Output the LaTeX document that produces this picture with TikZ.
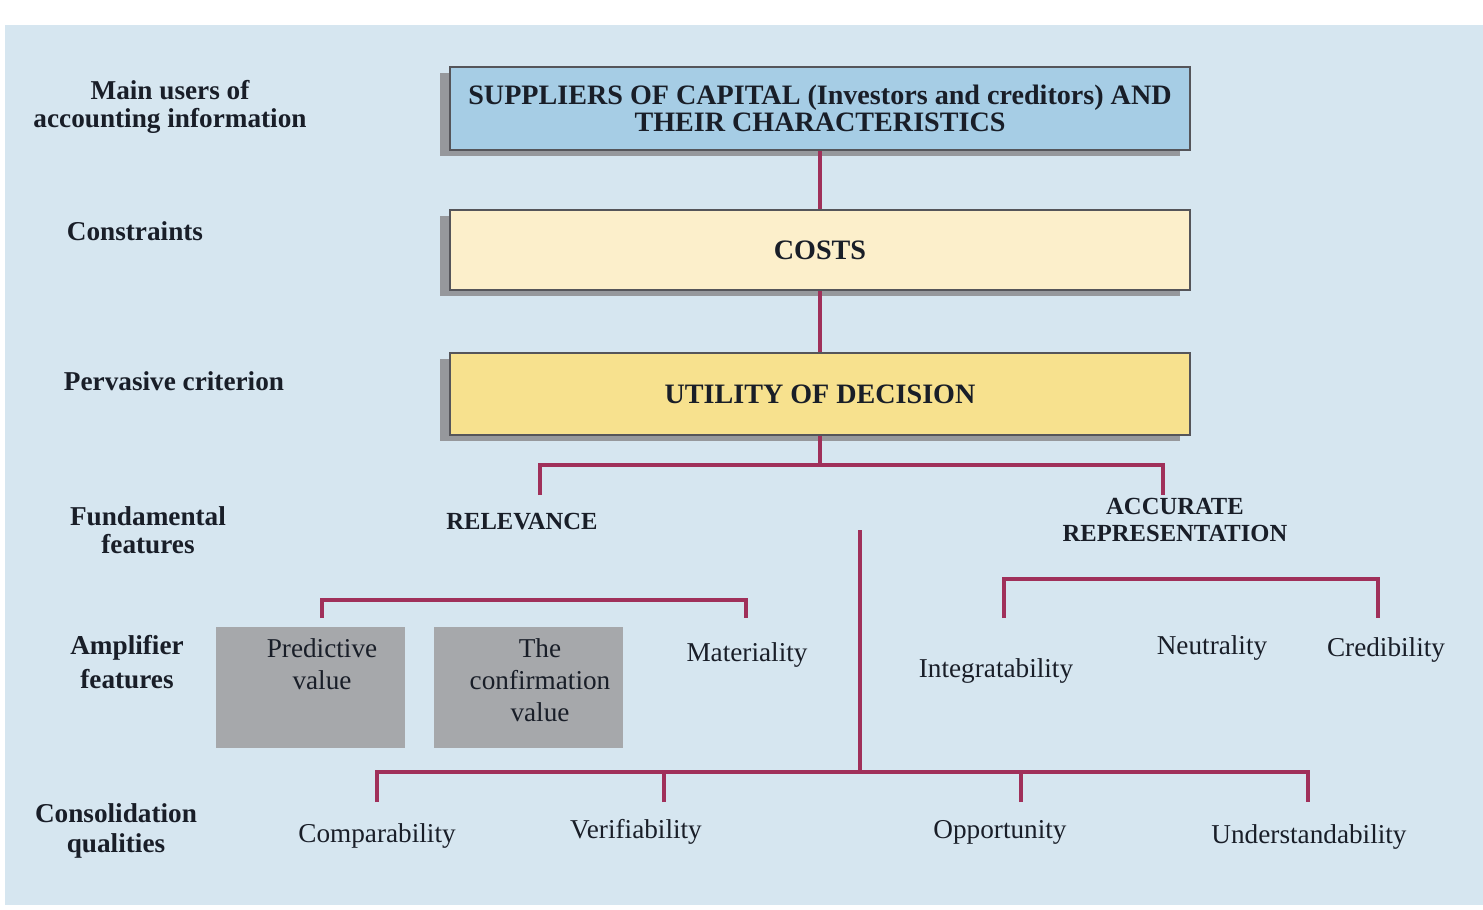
\documentclass[tikz,border=0pt]{standalone}
\usepackage{fontspec}
\setmainfont{Liberation Serif}
\usetikzlibrary{shadows}

\definecolor{bgblue}{RGB}{214,230,240}
\definecolor{supblue}{RGB}{166,205,229}
\definecolor{costcream}{RGB}{252,239,203}
\definecolor{utilyellow}{RGB}{247,225,142}
\definecolor{boxgray}{RGB}{166,168,171}
\definecolor{boxedge}{RGB}{85,85,90}
\definecolor{shadowgray}{RGB}{150,152,156}
\definecolor{linkred}{RGB}{160,48,90}
\definecolor{textdark}{RGB}{25,30,40}

\begin{document}
\begin{tikzpicture}[x=0.02cm,y=-0.02cm,
  link/.style={line width=2.2pt,color=linkred},
  topbox/.style={draw=boxedge,line width=1.3pt,minimum width=14.8cm,
    minimum height=1.64cm,inner sep=0pt,align=center,text=textdark,
    font=\fontsize{16}{15.4}\selectfont\bfseries,
    drop shadow={shadow xshift=-0.2cm,shadow yshift=-0.12cm,fill=shadowgray,opacity=1}},
  rowlabel/.style={align=center,text=textdark,font=\fontsize{15.5}{16}\selectfont\bfseries},
  feat/.style={align=center,text=textdark,font=\fontsize{14}{15.4}\selectfont\bfseries},
  amp/.style={align=center,text=textdark,font=\fontsize{15.5}{18.2}\selectfont},
  graybox/.style={fill=boxgray,minimum width=3.78cm,minimum height=2.42cm,inner sep=0pt}]

% background
\fill[white] (0,0) rectangle (1483,909);
\fill[bgblue] (5,25) rectangle (1483,905);
\useasboundingbox (0,0) rectangle (1483,909);

% row labels
\node[rowlabel] (lusers) at (170,107) {Main users of\\accounting information};
\node[rowlabel] (lcons) at (135,231) {Constraints};
\node[rowlabel] (lperv) at (174,381) {Pervasive criterion};
\node[rowlabel] (lfund) at (148,530) {Fundamental\\features};
\node[rowlabel,font=\fontsize{15.5}{19.4}\selectfont\bfseries] (lamp) at (127,662) {Amplifier\\features};
\node[rowlabel,font=\fontsize{15.5}{17}\selectfont\bfseries] (lcq) at (116,831) {Consolidation\\qualities};

% main boxes
\node[topbox,fill=supblue,minimum height=1.66cm] (sup) at (820,108.5) {SUPPLIERS OF CAPITAL (Investors and creditors) AND\\THEIR CHARACTERISTICS};
\node[topbox,fill=costcream,minimum height=1.6cm] (costs) at (820,250) {COSTS};
\node[topbox,fill=utilyellow] (util) at (820,394) {UTILITY OF DECISION};

\draw[link] (sup) -- (costs);
\draw[link] (costs) -- (util);

% fundamental features
\node[feat] (rel) at (522,522) {RELEVANCE};
\node[feat] (acc) at (1175,520) {ACCURATE\\REPRESENTATION};
\coordinate (jf) at (820,465);
\coordinate (relup) at (540,495);
\coordinate (accup) at (1163,495);
\draw[link] (util) -- (jf);
\draw[link] (relup) |- (jf) -| (accup);

% amplifier features
\node[graybox] (pred) at (310.5,687.5) {};
\node[graybox] (conf) at (528.5,687.5) {};
\node[amp] (predtxt) at (322,664) {Predictive\\value};
\node[amp] (conftxt) at (540,680) {The\\confirmation\\value};
\node[amp] (mat) at (747,655) {Materiality};
\node[amp] (integ) at (996,671) {Integratability};
\node[amp] (neut) at (1212,648) {Neutrality};
\node[amp] (cred) at (1386,650) {Credibility};

\coordinate (ra1) at (322,618);
\coordinate (ra2) at (746,618);
\coordinate (rbar) at (534,600);
\draw[link] (ra1) |- (rbar) -| (ra2);

\coordinate (aa1) at (1004,618);
\coordinate (aa2) at (1378,618);
\coordinate (abar) at (1191,579);
\draw[link] (aa1) |- (abar) -| (aa2);

% consolidation qualities
\node[amp] (comp) at (377,836) {Comparability};
\node[amp] (verif) at (636,832) {Verifiability};
\node[amp] (opp) at (1000,832) {Opportunity};
\node[amp] (under) at (1309,837) {Understandability};

\coordinate (spinetop) at (860,530);
\coordinate (jc) at (860,772);
\coordinate (cq1) at (377,802);
\coordinate (cq2) at (664,802);
\coordinate (cq3) at (1021,802);
\coordinate (cq4) at (1308,802);
\draw[link] (spinetop) -- (jc);
\draw[link] (cq1) |- (jc) -| (cq4);
\draw[link] (cq2) -- (cq2 |- jc);
\draw[link] (cq3) -- (cq3 |- jc);
\end{tikzpicture}
\end{document}
